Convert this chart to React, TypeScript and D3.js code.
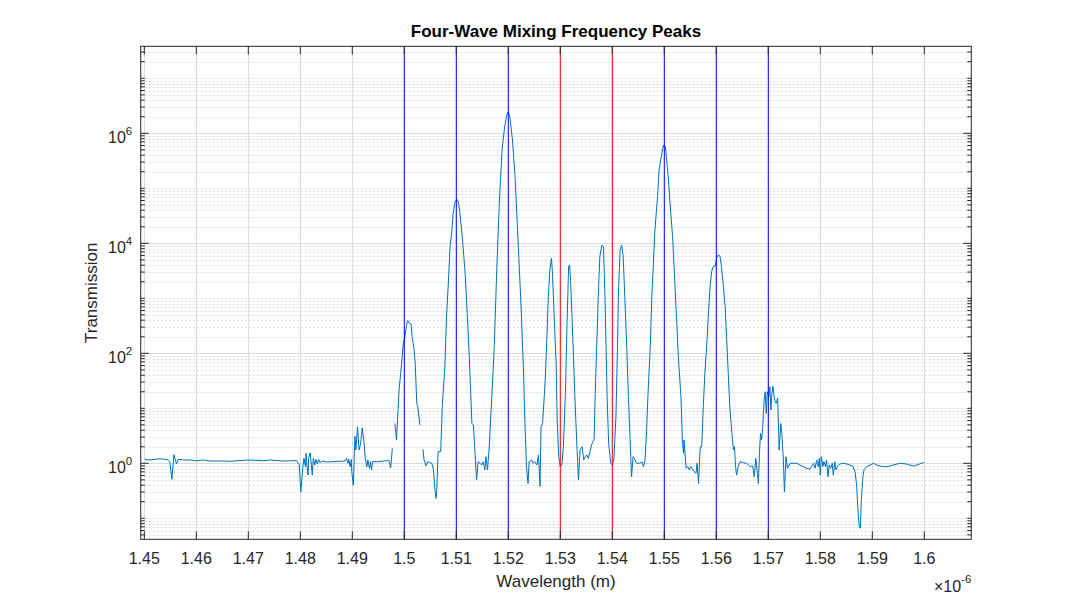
import React from "react";
import * as d3 from "d3";

// Wavelength in micrometres (axis shows x10^-6 m); null marks a gap in the trace
const wavelength: number[] = [
  1.4501, 1.4511, 1.4521, 1.4530, 1.4540, 1.4546, 1.4549, 1.4553, 1.4557, 1.4562,
  1.4565, 1.4575, 1.4588, 1.4601, 1.4613, 1.4626, 1.4652, 1.4665, 1.4690, 1.4703,
  1.4729, 1.4742, 1.4767, 1.4793, 1.4798, 1.4801, 1.4805, 1.4807, 1.4810, 1.4811,
  1.4813, 1.4815, 1.4816, 1.4819, 1.4821, 1.4823, 1.4825, 1.4828, 1.4830, 1.4833,
  1.4835, 1.4838, 1.4842, 1.4851, 1.4863, 1.4876, 1.4886, 1.4889, 1.4892, 1.4893,
  1.4896, 1.4898, 1.4899, 1.4902, 1.4905, 1.4907, 1.4910, 1.4913, 1.4916, 1.4919,
  1.4922, 1.4925, 1.4928, 1.4930, 1.4933, 1.4935, 1.4937, 1.4939, 1.4947, 1.4960,
  1.4966, 1.4970, 1.4974, 1.4977, 1.4980,
  1.4982, 1.4985, 1.4987, 1.4990, 1.4993, 1.4996, 1.4998, 1.5001, 1.5005, 1.5007,
  1.5010, 1.5013, 1.5015, 1.5019, 1.5021, 1.5024, 1.5026, 1.5030, 1.5033,
  1.5036, 1.5038, 1.5042, 1.5045, 1.5049, 1.5053, 1.5056, 1.5059, 1.5061, 1.5062,
  1.5065, 1.5070, 1.5073, 1.5075, 1.5078, 1.5081, 1.5085, 1.5088, 1.5091, 1.5094,
  1.5097, 1.5101, 1.5104, 1.5107, 1.5112, 1.5117, 1.5121, 1.5125, 1.5130, 1.5133,
  1.5136, 1.5139, 1.5142, 1.5146, 1.5149, 1.5152, 1.5155, 1.5157, 1.5160, 1.5163,
  1.5168, 1.5173, 1.5178, 1.5183, 1.5188, 1.5193, 1.5197, 1.5200, 1.5203, 1.5208,
  1.5213, 1.5219, 1.5224, 1.5229, 1.5232, 1.5235, 1.5238, 1.5240, 1.5245, 1.5248,
  1.5251, 1.5255, 1.5258, 1.5261, 1.5263, 1.5266, 1.5271, 1.5274, 1.5277, 1.5280,
  1.5283, 1.5285, 1.5288, 1.5292, 1.5294, 1.5297, 1.5300, 1.5303, 1.5306, 1.5310,
  1.5313, 1.5316, 1.5318, 1.5320, 1.5324, 1.5328, 1.5332, 1.5335, 1.5338, 1.5342,
  1.5345, 1.5348, 1.5351, 1.5354, 1.5357, 1.5362, 1.5365, 1.5367, 1.5370, 1.5373,
  1.5376, 1.5380, 1.5383, 1.5386, 1.5388, 1.5390, 1.5393, 1.5397, 1.5400, 1.5403,
  1.5407, 1.5410, 1.5412, 1.5415, 1.5418, 1.5421, 1.5424, 1.5428, 1.5431, 1.5434,
  1.5437, 1.5440, 1.5444, 1.5447, 1.5452, 1.5457, 1.5460, 1.5463, 1.5466, 1.5469,
  1.5473, 1.5476, 1.5479, 1.5482, 1.5487, 1.5490, 1.5494, 1.5497, 1.5499, 1.5502,
  1.5504, 1.5508, 1.5512, 1.5516, 1.5520, 1.5524, 1.5527, 1.5532, 1.5535, 1.5537,
  1.5538, 1.5542, 1.5545, 1.5548, 1.5551, 1.5555, 1.5558, 1.5561, 1.5563, 1.5566,
  1.5569, 1.5572, 1.5575, 1.5578, 1.5582, 1.5585, 1.5588, 1.5591, 1.5594, 1.5598,
  1.5601, 1.5604, 1.5607, 1.5610, 1.5613, 1.5617, 1.5620, 1.5623, 1.5626, 1.5630,
  1.5633, 1.5635, 1.5637, 1.5639, 1.5642, 1.5646, 1.5652, 1.5658, 1.5665, 1.5670,
  1.5673, 1.5676, 1.5679, 1.5681, 1.5683, 1.5685, 1.5687, 1.5689, 1.5692, 1.5694,
  1.5696, 1.5698, 1.5701, 1.5703, 1.5705, 1.5707, 1.5709, 1.5712, 1.5715, 1.5718,
  1.5721, 1.5724, 1.5726, 1.5729, 1.5731, 1.5734, 1.5737, 1.5742, 1.5755, 1.5761,
  1.5767, 1.5774, 1.5780, 1.5783, 1.5787, 1.5790, 1.5793, 1.5796, 1.5798, 1.5800,
  1.5802, 1.5805, 1.5807, 1.5810, 1.5812, 1.5815, 1.5817, 1.5820, 1.5823, 1.5825,
  1.5828, 1.5830, 1.5833, 1.5835, 1.5838, 1.5844, 1.5851, 1.5857, 1.5863, 1.5867,
  1.5870, 1.5872, 1.5875, 1.5877, 1.5879, 1.5882, 1.5884, 1.5889, 1.5896, 1.5902,
  1.5909, 1.5915, 1.5921, 1.5928, 1.5934, 1.5940, 1.5953, 1.5966, 1.5972, 1.5979,
  1.5985, 1.5991, 1.5998, 1.6000,
];

const transmission: (number | null)[] = [
  1.18, 1.15, 1.18, 1.21, 1.18, 1.15, 1.07, 0.51, 1.43, 0.97,
  1.18, 1.15, 1.15, 1.11, 1.15, 1.10, 1.10, 1.09, 1.13, 1.15,
  1.11, 1.15, 1.10, 1.12, 0.93, 0.30, 0.87, 1.23, 0.87, 1.52,
  0.87, 0.61, 1.23, 1.56, 1.0, 0.61, 1.23, 0.93, 1.18, 0.97,
  1.18, 1.03, 1.10, 1.06, 1.07, 1.09, 1.10, 1.23, 1.0, 1.18,
  0.87, 1.18, 0.70, 0.40, 3.1, 1.75, 4.6, 1.75, 2.24, 4.4,
  2.65, 1.23, 0.87, 1.15, 0.81, 1.07, 0.76, 1.07, 1.07, 1.10,
  1.11, 1.15, 0.83, 1.87, null,
  5.3, 2.65, 6.1, 21.5, 43, 87, 152, 200, 351, 392,
  351, 341, 200, 115, 66, 12.3, 10.7, 4.95, null,
  1.8, 1.15, 0.90, 1.07, 1.03, 1.0, 0.76, 0.33, 0.23, 0.25,
  1.63, 1.63, 10.7, 21.5, 57, 403, 2150, 8700, 15200, 35100,
  53400, 63100, 57000, 35100, 11500, 2850, 533, 87, 5.3, 4.95,
  1.52, 0.50, 1.07, 1.0, 0.93, 1.07, 0.76, 1.32, 0.76, 1.75,
  14.2, 132, 3750, 61300, 497000, 1320000, 2150000, 2470000, 2000000, 755000,
  163000, 10000, 931, 57, 5.3, 0.87, 0.43, 1.07, 1.15, 1.0,
  1.07, 0.93, 1.42, 0.38, 4.6, 5.3, 32.7, 175, 1070, 3270,
  5330, 2850, 533, 66, 6.1, 1.32, 0.87, 0.93, 2.0, 21.5,
  351, 3750, 4030, 1870, 200, 16.3, 2.0, 0.50, 1.75, 2.0,
  1.15, 1.32, 1.42, 1.23, 1.63, 2.47, 2.65, 16.3, 132, 1070,
  5700, 9310, 8700, 1070, 132, 16.3, 2.31, 1.0, 0.93, 1.15,
  7.0, 132, 1420, 7550, 9310, 5700, 1070, 115, 16.3, 3.05,
  0.57, 1.32, 1.15, 1.0, 1.0, 1.06, 0.87, 1.15, 4.0, 21.5,
  132, 1070, 4330, 17500, 70300, 215000, 376000, 533000, 613000, 570000,
  376000, 142000, 40300, 13200, 2150, 351, 87, 16.3, 2.31, 1.52,
  2.65, 0.81, 0.87, 0.76, 0.87, 0.76, 0.70, 0.66, 1.0, 0.43,
  2.0, 2.0, 10.7, 43, 163, 570, 1600, 3050, 3750, 3870,
  5560, 6120, 5880, 3750, 1870, 703, 175, 43, 10.7, 3.5,
  1.75, 2.0, 0.87, 0.61, 0.87, 1.07, 1.03, 1.0, 0.87, 0.89,
  0.57, 1.23, 0.66, 0.43, 1.52, 3.5, 2.65, 4.0, 14.2, 20,
  8.1, 20, 16.3, 24.7, 9.3, 18.7, 25.4, 14.2, 12.3, 15.2,
  1.75, 5.3, 3.5, 1.15, 0.30, 1.32, 0.81, 1.0, 1.0, 0.93,
  0.87, 0.81, 0.78, 0.87, 1.0, 0.81, 1.15, 0.87, 1.23, 0.61,
  1.32, 0.87, 1.07, 0.87, 1.15, 0.57, 0.93, 0.81, 1.0, 0.61,
  1.07, 0.76, 0.87, 0.93, 0.97, 1.0, 0.97, 0.93, 0.87, 0.70,
  0.38, 0.16, 0.070, 0.066, 0.22, 0.57, 0.76, 0.87, 0.93, 1.0,
  0.93, 0.89, 0.87, 0.87, 0.89, 0.93, 1.0, 0.97, 0.93, 0.89,
  0.93, 0.97, 1.03, 1.03,
];

const xTicks: number[] = [1.45, 1.46, 1.47, 1.48, 1.49, 1.5, 1.51, 1.52, 1.53, 1.54, 1.55, 1.56, 1.57, 1.58, 1.59, 1.6];
const xTickLabels: string[] = ["1.45", "1.46", "1.47", "1.48", "1.49", "1.5", "1.51", "1.52", "1.53", "1.54", "1.55", "1.56", "1.57", "1.58", "1.59", "1.6"];
const yTickExponents: number[] = [0, 2, 4, 6];
const blueLines: number[] = [1.5, 1.51, 1.52, 1.55, 1.56, 1.57];
const redLines: number[] = [1.53, 1.54];

const W = 1074;
const H = 607;
const L = 140.7, R = 971.3, T = 46.3, B = 539.3;
const FONT = "'Liberation Sans', Arial, Helvetica, sans-serif";
const AX = "#262626";

export default function App() {
  const x = d3.scaleLinear().domain([1.449308, 1.60904]).range([L, R]);
  const y = d3.scaleLog().domain([Math.pow(10, -1.3818), Math.pow(10, 7.5818)]).range([B, T]);

  const pts = wavelength.map((w, i) => ({ w, t: transmission[i] }));
  const line = d3
    .line<{ w: number; t: number | null }>()
    .defined((d) => d.t !== null && (d.t as number) > 0)
    .x((d) => x(d.w))
    .y((d) => y(d.t as number));

  const [y0, y1] = y.domain();
  const minor: number[] = [];
  for (let k = -2; k <= 8; k++) {
    for (let m = 1; m <= 9; m++) {
      const v = m * Math.pow(10, k);
      if (v >= y0 && v <= y1 && !(m === 1 && yTickExponents.includes(k))) minor.push(v);
    }
  }
  const majorY = yTickExponents.map((e) => Math.pow(10, e));

  return (
    <svg width={W} height={H} style={{ position: "absolute", left: 0, top: 0, background: "#fff" }} fontFamily={FONT}>
      <defs>
        <clipPath id="plotclip">
          <rect x={L} y={T} width={R - L} height={B - T} />
        </clipPath>
      </defs>
      <rect x={0} y={0} width={W} height={H} fill="#fff" />
      <rect x={L} y={T} width={R - L} height={B - T} fill="#fff" />
      {/* minor y grid */}
      {minor.map((v, i) => (
        <line key={"mg" + i} x1={L} x2={R} y1={Math.round(y(v)) + 0.5} y2={Math.round(y(v)) + 0.5} stroke="#dedede" strokeWidth={1} strokeDasharray="2,2" />
      ))}
      {/* major grid */}
      {xTicks.map((v, i) => (
        <line key={"xg" + i} x1={Math.round(x(v)) + 0.5} x2={Math.round(x(v)) + 0.5} y1={T} y2={B} stroke="#dcdcdc" strokeWidth={1} />
      ))}
      {majorY.map((v, i) => (
        <line key={"yg" + i} x1={L} x2={R} y1={Math.round(y(v)) + 0.5} y2={Math.round(y(v)) + 0.5} stroke="#dcdcdc" strokeWidth={1} />
      ))}
      {/* data */}
      <path d={line(pts as any) || ""} fill="none" stroke="#0072BD" strokeWidth={1} clipPath="url(#plotclip)" strokeLinejoin="round" />
      {/* vertical markers */}
      {blueLines.map((v, i) => (
        <line key={"bl" + i} x1={x(v)} x2={x(v)} y1={T} y2={B} stroke="#0000ff" strokeWidth={1} />
      ))}
      {redLines.map((v, i) => (
        <line key={"rl" + i} x1={x(v)} x2={x(v)} y1={T} y2={B} stroke="#ff0000" strokeWidth={1} />
      ))}
      {/* axes box */}
      <rect x={L} y={T} width={R - L} height={B - T} fill="none" stroke={AX} strokeWidth={1} />
      {/* x ticks */}
      {xTicks.map((v, i) => (
        <g key={"xt" + i}>
          <line x1={x(v)} x2={x(v)} y1={B} y2={B - 8} stroke={AX} />
          <line x1={x(v)} x2={x(v)} y1={T} y2={T + 8} stroke={AX} />
          <text x={x(v)} y={B + 24.5} textAnchor="middle" fontSize={16} fill={AX}>
            {xTickLabels[i]}
          </text>
        </g>
      ))}
      {/* y ticks */}
      {minor.map((v, i) => (
        <g key={"ymt" + i}>
          <line x1={L} x2={L + 4} y1={y(v)} y2={y(v)} stroke={AX} />
          <line x1={R} x2={R - 4} y1={y(v)} y2={y(v)} stroke={AX} />
        </g>
      ))}
      {yTickExponents.map((e, i) => (
        <g key={"yt" + i}>
          <line x1={L} x2={L + 8} y1={y(majorY[i])} y2={y(majorY[i])} stroke={AX} />
          <line x1={R} x2={R - 8} y1={y(majorY[i])} y2={y(majorY[i])} stroke={AX} />
          <text x={L - 8.5} y={y(majorY[i]) + 10} textAnchor="end" fontSize={16} fill={AX}>
            10
            <tspan dy={-8.5} fontSize={11.5}>
              {e}
            </tspan>
          </text>
        </g>
      ))}
      {/* exponent label */}
      <text x={R} y={B + 52.5} textAnchor="end" fontSize={16} fill={AX}>
        ×10
        <tspan dy={-8.5} fontSize={11.5}>
          -6
        </tspan>
      </text>
      {/* axis labels */}
      <text x={(L + R) / 2} y={B + 48} textAnchor="middle" fontSize={17} fill={AX}>
        Wavelength (m)
      </text>
      <text transform={`translate(${97}, ${(T + B) / 2}) rotate(-90)`} textAnchor="middle" fontSize={17} fill={AX}>
        Transmission
      </text>
      <text x={(L + R) / 2} y={T - 9} textAnchor="middle" fontSize={17} fontWeight="bold" fill="#000">
        Four-Wave Mixing Frequency Peaks
      </text>
    </svg>
  );
}
